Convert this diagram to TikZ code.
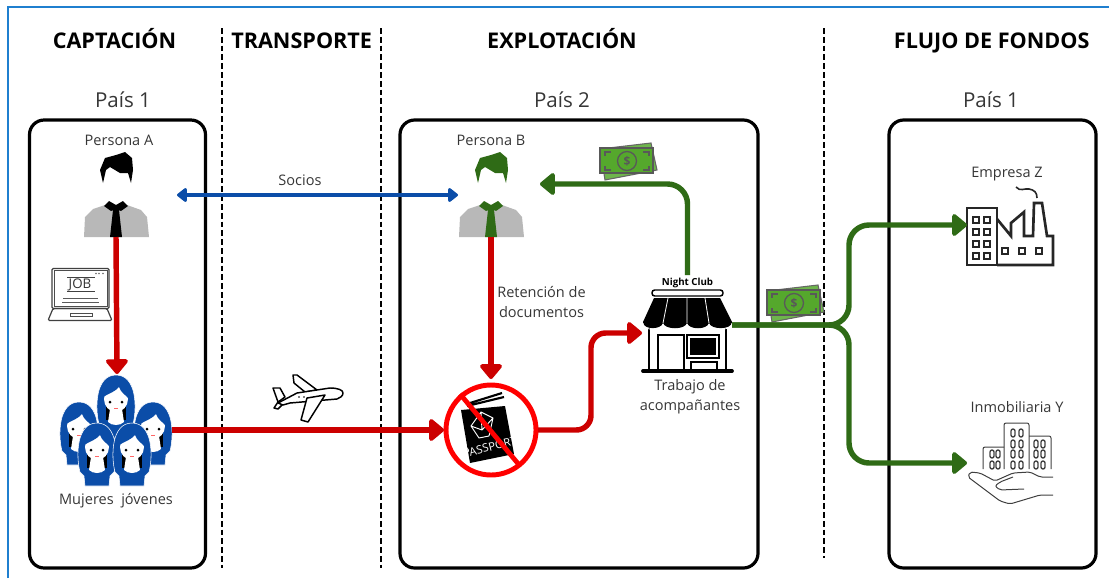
\documentclass[tikz,border=0pt]{standalone}
\usepackage{fontspec}
\setmainfont{Open Sans}
\usetikzlibrary{arrows.meta, calc}
\definecolor{redline}{HTML}{CC0000}
\definecolor{greenline}{HTML}{2F6B16}
\definecolor{blueline}{HTML}{0B4DA8}
\definecolor{frameblue}{HTML}{1F7FCF}
\definecolor{labelgray}{HTML}{363636}
\definecolor{cashgreen}{HTML}{55A82C}
\tikzset{
  slot/.style n args={2}{minimum width=#1*0.75pt,minimum height=#2*0.75pt,inner sep=0pt,outer sep=0pt},
  paisbox/.style n args={2}{slot={#1}{#2},draw,line width=2.4pt,rounded corners=11pt},
  divider/.style={line width=2.1pt,dash pattern=on 4.4pt off 2.2pt},
  title/.style={anchor=base,font=\fontsize{16.2}{19}\selectfont\bfseries},
  pais/.style={anchor=base,text=labelgray,font=\fontsize{15.4}{18}\selectfont},
  label/.style={anchor=base,text=labelgray,font=\fontsize{10.9}{15}\selectfont},
  redarrow/.style={draw=redline,line width=4.1pt,rounded corners=11pt,-{Triangle[width=19pt,length=12pt,round]}},
  greenarrow/.style={draw=greenline,line width=4.1pt,rounded corners=15pt,-{Triangle[width=19pt,length=12pt,round]}},
  bluearrow/.style={draw=blueline,line width=2.7pt,{Triangle[width=12pt,length=8pt,round]}-{Triangle[width=12pt,length=8pt,round]}},
  pics/personicon/.style={code={
    \fill[#1] (-13,-12) -- (-16,-25) -- (-11,-37) -- (0,-40) -- (9,-43) -- (16,-37) -- (17,-25) -- (15,-12) -- (12,-22) -- (4,-22) -- (-6,-28) -- (-10,-25) -- cycle;
    \fill[black!28] (-32,42) -- (-31,22) -- (-23,14) -- (-11,10) -- (11,10) -- (25,15) -- (31,22) -- (33,42) -- cycle;
    \fill[#1] (-12,11) -- (-7,6) -- (0,10) -- (7,6) -- (12,11) -- (5,16) -- (3,15) -- (6,42) -- (-6,42) -- (-3,15) -- (-5,16) -- cycle;
  }},
  pics/womanicon/.style={code={
    \fill[blueline,draw=white,line width=.4pt] (-12,39) -- (12,39) -- (13,29) -- (17,25) .. controls (21,10) and (21,-24) .. (0,-24) .. controls (-21,-24) and (-21,10) .. (-17,25) -- (-13,29) -- cycle;
    \fill[black] (-10,8) rectangle (10,21);
    \fill[white] (-6,10) -- (6,10) -- (8,23) .. controls (4,27) and (-4,27) .. (-8,23) -- cycle;
    \fill[white] (0,0) ellipse (12 and 13);
    \fill[blueline] (-13,-2) .. controls (-6,-6) and (0,-8) .. (3,-12) .. controls (5,-6) and (10,-4) .. (13,0) -- (13,-14) -- (-13,-14) -- cycle;
    \fill[black] (-6,3) circle (1.5) (6,3) circle (1.5);
    \fill[red!60] (-2,8.5) rectangle (2,9.5);
  }},
  pics/cashicon/.style={code={
    \filldraw[fill=cashgreen!85,draw=black!60,line width=.8pt] (-22,19) -- (30,9) -- (24,-18) -- (-27,-12) -- cycle;
    \filldraw[fill=cashgreen,draw=black!65,line width=1.1pt] (-27,-13) rectangle (26,12);
    \draw[black!65,line width=1pt] (-22,-5) |- (-16,-9) (16,-9) -| (22,-5) (22,5) |- (16,9) (-16,9) -| (-22,5);
    \draw[black!65,line width=1pt] (0,0) circle (9.5);
    \node[text=black!65,font=\fontsize{9}{9}\selectfont\bfseries,inner sep=0pt] at (0,0) {\$};
  }},
  pics/laptopicon/.style={code={
    \draw[black!75,line width=.9pt,rounded corners=1pt] (-28,14) rectangle (29,-26);
    \draw[black!70,line width=.5pt] (-26,12) rectangle (27,-24);
    \draw[black!75,line width=.9pt,rounded corners=1pt] (-27,14) -- (27,14) -- (32,26) -- (-32,26) -- cycle;
    \draw[black!70,line width=.7pt] (-10,22) rectangle (12,19);
    \draw[black!75,line width=1.1pt] (-13,-17) -- (15,-17) (-13,-3) -- (15,-3);
    \draw[black!65,line width=.9pt] (-17,4) -- (18,4) (-18,8) -- (19,8);
    \fill[black!60] (16,-21) circle (.8) (19,-21) circle (.8) (23,-21) circle (.8);
    \node[text=black!80,font=\fontsize{10}{10}\selectfont,inner sep=0pt] at (0,-10) {JOB};
  }},
  pics/planeicon/.style={code={
    \begin{scope}[draw=black,fill=white,line width=1.1pt,line join=round]
    \filldraw (-35,-10) -- (-28,-10) -- (-23,-1) -- (-30,4) -- cycle;
    \filldraw (-30,4) -- (-23,4) -- (-30,11) -- (-34,10) -- cycle;
    \filldraw (-15,-23) -- (-11,-23) -- (9,-8) -- (-3,-6) -- (-14,-15) -- cycle;
    \filldraw (-30,5) -- (-11,-5) -- (22,-10) .. controls (30,-10) and (35,-8) .. (35,-5) .. controls (35,-2) and (32,0) .. (29,1) -- (-18,5) -- (-25,7) -- cycle;
    \filldraw (-1,0) -- (17,-3) -- (0,24) -- (-7,22) -- cycle;
    \end{scope}
    \fill (-9,-1) circle (.9) (-4,-1) circle (.9);
  }},
  pics/passporticon/.style={code={
    \draw[black,line width=1.6pt] (-21,-27) -- (11,-37) (-24,-24) -- (13,-33);
    \fill[black] (-30,-20) -- (14,-24) -- (23,24) -- (-21,33) -- cycle;
    \draw[white,line width=.7pt,line join=round] (-20,-4) -- (-10,-18) -- (2,-12) -- (-2,6) -- (-12,8) -- cycle (-10,-18) -- (-9,0) -- (-20,-4) (-9,0) -- (2,-12);
    \node[rotate=14,text=white,font=\fontsize{8.5}{8}\selectfont,inner sep=0pt] at (-1,17) {PASSPORT};
    \draw[red,line width=3.6pt] (-31,-36) -- (29,36);
    \draw[red,line width=3.7pt] (0,0) circle (45);
  }},
  pics/shopicon/.style={code={
    \draw[line width=2.1pt] (-38,-5) -- (-38,38) (39,-5) -- (39,38);
    \draw[line width=2.8pt,line cap=round] (-44,38) -- (45,38);
    \draw[line width=2.1pt] (-29,39) -- (-29,2) -- (-3,2) -- (-3,39);
    \draw[line width=1.4pt] (0,2) rectangle (32,25);
    \fill (3,5) rectangle (29,22);
    \draw[line width=2.1pt] (4,39) -- (4,29) -- (30,29) -- (30,39);
    \fill (-33,-35) -- (33,-35) -- (45,-11) .. controls (45,-3) and (24,-3) .. (22,-10) .. controls (20,-3) and (2,-3) .. (0,-10) .. controls (-2,-3) and (-22,-3) .. (-24,-10) .. controls (-26,-3) and (-44,-3) .. (-44,-11) -- cycle;
    \draw[white,line width=.6pt] (-19,-35) -- (-24,-10) (0,-35) -- (0,-10) (18,-35) -- (22,-10);
    \draw[white,line width=.6pt] (-44,-9.5) .. controls (-44,-2) and (-26,-2) .. (-24,-8.5) .. controls (-22,-2) and (-2,-2) .. (0,-8.5) .. controls (2,-2) and (20,-2) .. (22,-8.5) .. controls (24,-2) and (45,-2) .. (45,-9.5);
    \draw[black,line width=1.1pt,fill=white,rounded corners=2pt] (-35,-43) rectangle (36,-37);
  }},
  pics/factoryicon/.style={code={
    \begin{scope}[draw=black!85,line width=2pt]
    \draw (-43,-17) rectangle (-13,40);
    \draw (-13,-6) -- (1,11) -- (1,-2) -- (14,-13) -- (14,11) -- (23,11) -- (24,-22) -- (32,-22) -- (37,11) -- (43,11) -- (43,40) -- (-13,40);
    \foreach \wx in {-34,-23} \foreach \wy in {-5,7,19,31} \draw[line width=1.7pt] (\wx-3,\wy-3) rectangle (\wx+3,\wy+3);
    \foreach \wx in {-5,12,29} \draw[line width=1.7pt] (\wx-3,23) rectangle (\wx+3,29);
    \draw[line width=1.2pt] (6,-38) .. controls (10,-33) and (15,-37) .. (19,-36) .. controls (24,-35) and (27,-33) .. (27,-27);
    \end{scope}
  }},
  pics/estateicon/.style={code={
    \begin{scope}[draw=black!75,double=black!15,line width=.75pt,double distance=.8pt,rounded corners=1.5pt]
    \draw (-27,6) -- (-27,-16) -- (-6,-16);
    \draw (-6,6) -- (-6,-40) -- (19,-40) -- (19,6);
    \draw (19,-27) -- (41,-27) -- (41,6);
    \foreach \wx/\wy in {-18/-9,-18/2,-12/-9,-12/2,3/-30,3/-19,3/-9,3/2,11/-30,11/-19,11/-9,11/2,26/-19,26/-9,26/2,33/-19,33/-9,33/2}
      \draw[double=none,line width=1pt] (\wx-2,\wy-4) rectangle (\wx+2,\wy+4);
    \draw (43,14) -- (30,14) -- (20,9) -- (3,10) -- (-15,18) -- (-30,10) -- (-40,9) -- (-42,14) -- (-10,38) -- (0,41) -- (30,32) -- (43,32);
    \draw (14,26) -- (-10,27) -- (-15,23) -- (-10,19) -- (3,14);
    \end{scope}
  }}
}
\begin{document}
\begin{tikzpicture}[x=0.75pt,y=-0.75pt]
\useasboundingbox (0,0) rectangle (1109,578);
\draw[frameblue,line width=1.5pt] (7.5,578) -- (7.5,6.5) -- (1109,6.5);

\foreach \xx/\yy in {222/568,381/568,824/558}
  \draw[divider] (\xx,28) -- (\xx,\yy);

\node (captacion) [title] at (114.5,48) {CAPTACIÓN};
\node (transporte) [title] at (301.7,48) {TRANSPORTE};
\node (explotacion) [title] at (562,48) {EXPLOTACIÓN};
\node (flujo) [title] at (991.7,48) {FLUJO DE FONDOS};
\node (pais1a) [pais] at (123,107) {País 1};
\node (pais2) [pais] at (562,107) {País 2};
\node (pais1b) [pais] at (991,107) {País 1};

\node (boxA) [paisbox={176}{448}] at (117.5,344) {};
\node (boxB) [paisbox={358}{448}] at (579,344) {};
\node (boxC) [paisbox={207}{448}] at (992.5,344) {};

\node (personA) [slot={66}{84}] at (116,195) {};
\node (personB) [slot={66}{84}] at (491,195) {};
\node (women) [slot={110}{112}] at (117,430) {};
\node (passport) [slot={94}{94}] at (491,430) {};
\node (shop) [slot={90}{84}] at (687,333) {};
\node (empresa) [slot={86}{80}] at (1010,225) {};
\node (inmobiliaria) [slot={86}{84}] at (1010,463) {};
\node (laptop) [slot={64}{53}] at (80,294.5) {};
\node (plane) [slot={71}{48}] at (308,398) {};
\node (cashB) [slot={58}{32}] at (627,161) {};
\node (cashF) [slot={58}{32}] at (794,303) {};
\coordinate (bendP) at (591,380);
\coordinate (split) at (849,325);

\pic at (personA) {personicon=black};
\pic at (personB) {personicon=greenline};
\foreach \xx/\yy in {-1/-31,-38/-4,36/-4,-20/17,15/17}
  \pic at ($(women)+(\xx,\yy)$) {womanicon};
\pic at (passport) {passporticon};
\pic at (shop) {shopicon};
\pic at (empresa) {factoryicon};
\pic at (inmobiliaria) {estateicon};
\pic at (laptop) {laptopicon};
\pic at (plane) {planeicon};
\pic at (cashB) {cashicon};
\pic at (cashF) {cashicon};

\node (personaAtxt) [label] at (119,145) {Persona A};
\node (personaBtxt) [label] at (491,145) {Persona B};
\node (socios) [label] at (300,185) {Socios};
\node (mujeres) [label] at (116,504) {Mujeres\ \ jóvenes};
\node (retencion) [label,anchor=center,align=center] at (541.5,302) {Retención de\\documentos};
\node (nightclub) [anchor=center,inner sep=0pt,font=\fontsize{7.3}{9}\selectfont\bfseries] at (687.5,283) {Night Club};
\node (trabajo) [label,anchor=center,align=center] at (690,397) {Trabajo de\\acompañantes};
\node (empresatxt) [label] at (1007,177) {Empresa Z};
\node (inmobtxt) [label] at (1017,412) {Inmobiliaria Y};

\draw[bluearrow,shorten <=21pt] (personA.east) -- (personB.west);
\draw[redarrow] (personA.south) -- (women.north);
\draw[redarrow,shorten >=3pt] (personB.south) -- (passport.north);
\draw[redarrow] (women.east) -- (passport.west);
\draw[redarrow] (passport.east) -| (bendP) |- (shop.west);
\draw[greenarrow,shorten >=12pt] ([yshift=2pt]nightclub.north) |- ([yshift=8.25pt]personB.east);
\draw[greenarrow] ([yshift=6pt]shop.east) -- (split) |- (empresa.west);
\draw[greenarrow] ([yshift=6pt]shop.east) -- (split) |- (inmobiliaria.west);
\end{tikzpicture}
\end{document}
